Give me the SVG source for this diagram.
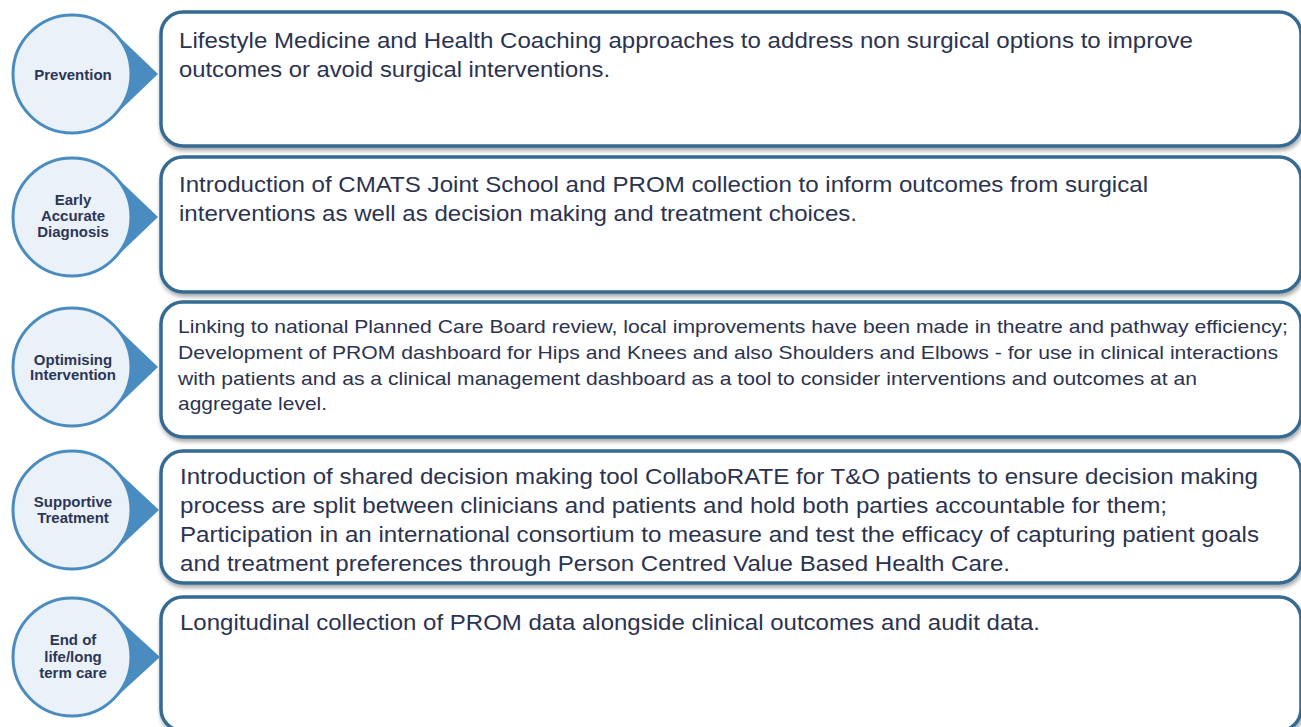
<svg xmlns="http://www.w3.org/2000/svg" width="1301" height="727" viewBox="0 0 1301 727">
<defs>
<style>
.box{fill:#ffffff;stroke:#356a93;stroke-width:3.5;filter:url(#sh)}
.circ{fill:#eaf1f9;stroke:#4a8cc0;stroke-width:3}
.ptr{fill:#4a8cc0}
.lbl{font-family:"Liberation Sans",Arial,sans-serif;font-weight:bold;font-size:15px;fill:#2d3656;text-anchor:middle}
.t{font-family:"Liberation Sans",Arial,sans-serif;font-size:22px;fill:#2b3350}
.s{font-family:"Liberation Sans",Arial,sans-serif;font-size:19px;fill:#2b3350}
</style>
<filter id="sh" x="-5%" y="-10%" width="110%" height="125%">
<feGaussianBlur in="SourceAlpha" stdDeviation="2"/>
<feOffset dx="1" dy="3" result="b"/>
<feComponentTransfer><feFuncA type="linear" slope="0.35"/></feComponentTransfer>
<feMerge><feMergeNode/><feMergeNode in="SourceGraphic"/></feMerge>
</filter>
</defs>
<g id="connectors"></g>
<g id="box1"><rect class="box" x="161" y="12" width="1140" height="134" rx="22"/>
<text class="t" x="179" y="48" textLength="1014" lengthAdjust="spacingAndGlyphs">Lifestyle Medicine and Health Coaching approaches to address non surgical options to improve</text>
<text class="t" x="179" y="77" textLength="431" lengthAdjust="spacingAndGlyphs">outcomes or avoid surgical interventions.</text></g>
<g id="box2"><rect class="box" x="161" y="157" width="1140" height="135" rx="22"/>
<text class="t" x="179" y="192" textLength="969" lengthAdjust="spacingAndGlyphs">Introduction of CMATS Joint School and PROM collection to inform outcomes from surgical</text>
<text class="t" x="179" y="221" textLength="678" lengthAdjust="spacingAndGlyphs">interventions as well as decision making and treatment choices.</text></g>
<g id="box3"><rect class="box" x="161" y="302" width="1140" height="135" rx="22"/>
<text class="s" x="178" y="333" textLength="1110" lengthAdjust="spacingAndGlyphs">Linking to national Planned Care Board review, local improvements have been made in theatre and pathway efficiency;</text>
<text class="s" x="178" y="359" textLength="1100" lengthAdjust="spacingAndGlyphs">Development of PROM dashboard for Hips and Knees and also Shoulders and Elbows - for use in clinical interactions</text>
<text class="s" x="178" y="385" textLength="1019" lengthAdjust="spacingAndGlyphs">with patients and as a clinical management dashboard as a tool to consider interventions and outcomes at an</text>
<text class="s" x="178" y="410" textLength="149" lengthAdjust="spacingAndGlyphs">aggregate level.</text></g>
<g id="box4"><rect class="box" x="161" y="451" width="1140" height="132" rx="22"/>
<text class="t" x="180" y="484" textLength="1078" lengthAdjust="spacingAndGlyphs">Introduction of shared decision making tool CollaboRATE for T&amp;O patients to ensure decision making</text>
<text class="t" x="180" y="513" textLength="987" lengthAdjust="spacingAndGlyphs">process are split between clinicians and patients and hold both parties accountable for them;</text>
<text class="t" x="180" y="542" textLength="1079" lengthAdjust="spacingAndGlyphs">Participation in an international consortium to measure and test the efficacy of capturing patient goals</text>
<text class="t" x="180" y="571" textLength="830" lengthAdjust="spacingAndGlyphs">and treatment preferences through Person Centred Value Based Health Care.</text></g>
<g id="box5"><rect class="box" x="161" y="597" width="1140" height="134" rx="22"/>
<text class="t" x="180" y="630" textLength="860" lengthAdjust="spacingAndGlyphs">Longitudinal collection of PROM data alongside clinical outcomes and audit data.</text></g>
<g id="c1"><path class="ptr" d="M112 30 L158 74 L112 118 Z"/><circle class="circ" cx="72" cy="74" r="59"/>
<text class="lbl" x="73" y="80">Prevention</text></g>
<g id="c2"><path class="ptr" d="M112 173 L158 217 L112 261 Z"/><circle class="circ" cx="72" cy="217" r="59"/>
<text class="lbl" x="73" y="205">Early</text><text class="lbl" x="73" y="221">Accurate</text><text class="lbl" x="73" y="237">Diagnosis</text></g>
<g id="c3"><path class="ptr" d="M112 323 L158 367 L112 411 Z"/><circle class="circ" cx="72" cy="367" r="59"/>
<text class="lbl" x="73" y="365">Optimising</text><text class="lbl" x="73" y="380">Intervention</text></g>
<g id="c4"><path class="ptr" d="M112 466 L159 510 L112 554 Z"/><circle class="circ" cx="72" cy="510" r="59"/>
<text class="lbl" x="73" y="507">Supportive</text><text class="lbl" x="73" y="523">Treatment</text></g>
<g id="c5"><path class="ptr" d="M112 613 L160 657 L112 701 Z"/><circle class="circ" cx="72" cy="657" r="59"/>
<text class="lbl" x="73" y="645">End of</text><text class="lbl" x="73" y="662">life/long</text><text class="lbl" x="73" y="678">term care</text></g>
</svg>
